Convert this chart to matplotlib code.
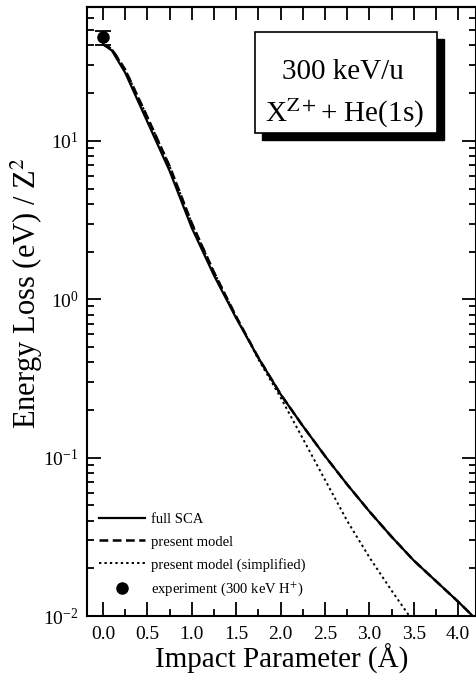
import numpy as np
from matplotlib import pyplot as plt
from matplotlib.patches import Rectangle
from matplotlib.lines import Line2D
from matplotlib.ticker import LogLocator, MultipleLocator, NullFormatter

plt.rcParams['font.family'] = ['Liberation Serif', 'DejaVu Serif']
plt.rcParams['mathtext.fontset'] = 'stix'

# impact parameter (Angstrom) and log10 energy loss
b_full = [0.0, 0.1, 0.25, 0.5, 0.75, 1.0, 1.25, 1.5, 1.75, 2.0, 2.25, 2.5,
          2.75, 3.0, 3.25, 3.5, 3.75, 4.0, 4.2]
log_full = [1.61, 1.57, 1.43, 1.12, 0.81, 0.45, 0.15, -0.12, -0.37, -0.60,
            -0.80, -0.99, -1.17, -1.34, -1.50, -1.65, -1.78, -1.91, -2.02]

b_model = b_full
log_model = [1.61, 1.58, 1.45, 1.15, 0.84, 0.48, 0.17, -0.11, -0.37, -0.60,
             -0.80, -0.99, -1.17, -1.34, -1.50, -1.65, -1.78, -1.91, -2.02]

b_simple = [0.0, 0.1, 0.25, 0.5, 0.75, 1.0, 1.25, 1.5, 1.75, 2.0, 2.25, 2.5,
            2.75, 3.0, 3.25, 3.5]
log_simple = [1.61, 1.58, 1.45, 1.15, 0.84, 0.48, 0.17, -0.11, -0.38, -0.62,
              -0.88, -1.14, -1.40, -1.63, -1.84, -2.04]

b_exp = [0.0]
y_exp = [45.0]
y_exp_err = [4.5]

fig = plt.figure(figsize=(4.76, 6.77), dpi=100)
ax = fig.add_axes([87 / 476, 1 - 616 / 677, 389 / 476, 609 / 677])

l1, = ax.plot(b_full, 10 ** np.array(log_full), color='black', lw=1.6, ls='-')
l2, = ax.plot(b_model, 10 ** np.array(log_model), color='black', lw=1.8,
              ls=(0, (3.5, 1.8)))
l3, = ax.plot(b_simple, 10 ** np.array(log_simple), color='black', lw=1.4,
              ls=(0, (1.2, 1.6)))
ax.errorbar(b_exp, y_exp, yerr=y_exp_err, fmt='o', color='black', ms=8,
            capsize=6, elinewidth=1.3, capthick=1.3)
dot = Line2D([], [], ls='none', marker='o', color='black', ms=8)

ax.set_yscale('log')
ax.set_xlim(-0.18, 4.2)
ax.set_ylim(0.01, 70)

ax.xaxis.set_major_locator(MultipleLocator(0.5))
ax.xaxis.set_minor_locator(MultipleLocator(0.25))
ax.xaxis.set_major_formatter(plt.FuncFormatter(lambda v, p: f'{v:.1f}'))
ax.yaxis.set_major_locator(LogLocator(base=10, numticks=10))
ax.yaxis.set_minor_locator(LogLocator(base=10, subs=np.arange(2, 10), numticks=10))
ax.yaxis.set_minor_formatter(NullFormatter())

ax.tick_params(which='both', direction='in', top=False, right=True,
               labelsize=14, width=1.3)
ax.tick_params(which='major', length=10)
ax.tick_params(which='minor', length=5)
ax.tick_params(axis='x', pad=7)
ax.tick_params(axis='y', pad=6)

top = ax.secondary_xaxis('top')
top.xaxis.set_major_locator(MultipleLocator(0.25))
top.tick_params(direction='in', length=9, width=1.3, labeltop=False)
top.spines['top'].set_linewidth(1.5)

for s in ax.spines.values():
    s.set_linewidth(1.5)

ax.set_xlabel('Impact Parameter (Å)', fontsize=21, labelpad=1)
ax.set_ylabel('Energy Loss (eV) / Z$^{2}$', fontsize=22)
ax.yaxis.set_label_coords(-0.108, 0.53)

# annotation box with drop shadow
x0, y0, w, h = 0.432, 0.793, 0.468, 0.166
ax.add_patch(Rectangle((x0 + 0.018, y0 - 0.0115), w, h, transform=ax.transAxes,
                       facecolor='black', edgecolor='black', zorder=4))
ax.add_patch(Rectangle((x0, y0), w, h, transform=ax.transAxes,
                       facecolor='white', edgecolor='black', lw=1.2, zorder=5))
ax.text(0.658, 0.893, '300 keV/u', transform=ax.transAxes, fontsize=21,
        ha='center', va='center', zorder=6)
ax.text(0.663, 0.826, 'X$^{\\mathrm{Z+}}$+ He(1s)', transform=ax.transAxes,
        fontsize=21, ha='center', va='center', zorder=6)

ax.legend([l1, l2, l3, dot],
          ['full SCA', 'present model', 'present model (simplified)',
           'experiment (300 keV H$^{+}$)'],
          loc='lower left', bbox_to_anchor=(0.0, 0.01), frameon=False,
          fontsize=10.5, handlelength=3.2, handletextpad=0.4,
          labelspacing=0.62, borderaxespad=0.4)

fig.savefig('out.png', dpi=100)
